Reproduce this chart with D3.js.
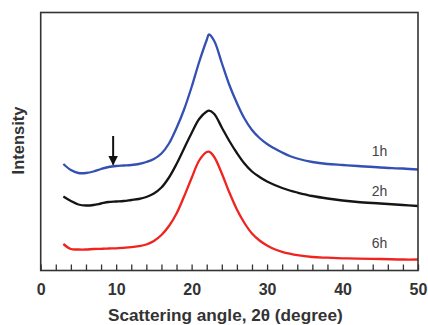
<!DOCTYPE html>
<html>
<head>
<meta charset="utf-8">
<script src="https://cdn.jsdelivr.net/npm/d3@7"></script>
<style>
  body { margin: 0; background: #fff; }
  text { font-family: Arial, "Liberation Sans", sans-serif; }
</style>
</head>
<body>
<div id="chart"></div>
<script>
// scattering angle grid (2θ, degree)
const angles = [3, 4, 5, 6, 7, 8, 9, 10, 11, 12, 13, 14, 15, 16, 17, 18, 19, 20, 21, 22, 22.3,
  23, 24, 25, 26, 27, 28, 29, 30, 31, 32, 33, 34, 36, 38, 40, 42, 45, 48, 50];

// intensity (a.u., curves offset for display)
const intensity1h = [106.5, 100.5, 97.5, 97.5, 99, 101.5, 103.5, 104.5, 105, 105.5, 106.5, 108.5, 111.5,
  117, 127, 142.5, 161, 183.5, 208.5, 230.5, 236,
  229.5, 207.5, 185.5, 167.5, 152, 140.5, 132.5, 126.5, 122, 118, 114.5, 112, 108.5, 106.5, 105.5, 104.5, 103, 102, 101];
const intensity2h = [74, 69.5, 66, 65, 65.5, 67, 68.5, 69, 69.5, 70.5, 71.5, 73.5, 77,
  83, 93, 106.5, 122, 137.5, 151.5, 159, 159.8,
  156.5, 143, 129.5, 117.5, 107, 99, 93.5, 89, 85.5, 82.5, 80, 78, 74.5, 72, 70, 68.5, 67, 65.5, 64.5];
const intensity6h = [26.5, 21.5, 21, 21, 21.5, 21.7, 22, 22.2, 22.7, 23.3, 24.3, 26, 29.5,
  35.5, 44.5, 57, 74, 92.5, 110, 118.5, 118.8,
  113.5, 97, 78, 61, 47.5, 37, 30, 25, 21.3, 18.7, 16.8, 15.3, 13.5, 12.8, 12.2, 11.8, 11.5, 11, 11];

const seriesNames = ["1h", "2h", "6h"];
const seriesColors = ["#3350b2", "#151515", "#f0231f"];
const labelAngle = 44.9;
const labelIntensity = [119, 79.5, 27];

// arrow marking the weak shoulder on the 1h curve
const arrowAngle = 9.6;
const arrowFrom = 134.5;
const arrowTo = 106;

const xTicks = d3.range(0, 51, 2);

const width = 428;
const height = 325;
const margin = { top: 12.5, right: 10, bottom: 54.5, left: 40.7 };

const chartWidth = width - margin.left - margin.right;
const chartHeight = height - margin.top - margin.bottom;

const svg = d3.select("#chart")
  .append("svg")
  .attr("width", width)
  .attr("height", height);

const chart = svg.append("g")
  .attr("transform", `translate(${margin.left}, ${margin.top})`);

const xScale = d3.scaleLinear([0, 50], [0, chartWidth]);
const yScale = d3.scaleLinear([0, 258], [chartHeight, 0]);

const series = [intensity1h, intensity2h, intensity6h].map((values, i) => ({
  name: seriesNames[i],
  color: seriesColors[i],
  labelY: labelIntensity[i],
  points: angles.map((a, j) => ({ angle: a, value: values[j] })),
}));

const line = d3.line()
  .x((d) => xScale(d.angle))
  .y((d) => yScale(d.value))
  .curve(d3.curveCatmullRom.alpha(0.5));

chart.selectAll(".curve")
  .data(series)
  .join("path")
  .attr("class", "curve")
  .attr("d", (d) => line(d.points))
  .attr("fill", "none")
  .attr("stroke", (d) => d.color)
  .attr("stroke-width", 2.3)
  .attr("stroke-linejoin", "round");

chart.selectAll(".series-label")
  .data(series)
  .join("text")
  .attr("class", "series-label")
  .attr("x", xScale(labelAngle))
  .attr("y", (d) => yScale(d.labelY))
  .attr("dy", "0.35em")
  .attr("text-anchor", "middle")
  .attr("font-size", 14)
  .attr("fill", "#444")
  .text((d) => d.name);

// arrow
svg.append("defs")
  .append("marker")
  .attr("id", "arrowhead")
  .attr("viewBox", "0 0 10 10")
  .attr("refX", 9)
  .attr("refY", 5)
  .attr("markerWidth", 5)
  .attr("markerHeight", 5)
  .attr("markerUnits", "strokeWidth")
  .attr("orient", "auto")
  .append("path")
  .attr("d", "M0,0 L10,5 L0,10 Z")
  .attr("fill", "#111");

chart.append("line")
  .attr("x1", xScale(arrowAngle))
  .attr("x2", xScale(arrowAngle))
  .attr("y1", yScale(arrowFrom))
  .attr("y2", yScale(arrowTo))
  .attr("stroke", "#111")
  .attr("stroke-width", 2)
  .attr("marker-end", "url(#arrowhead)");

// x axis: inward ticks, labels every 10
const xAxis = d3.axisBottom(xScale)
  .tickValues(xTicks)
  .tickSize(-6)
  .tickPadding(13)
  .tickFormat((d) => (d % 10 === 0 ? d : ""));

const gx = chart.append("g")
  .attr("transform", `translate(0, ${chartHeight})`)
  .call(xAxis);

gx.select(".domain").remove();
gx.selectAll(".tick line").attr("stroke", "#333").attr("stroke-width", 1.3);
gx.selectAll(".tick text")
  .attr("font-size", 16)
  .attr("font-weight", "bold")
  .attr("fill", "#333");

// frame
chart.append("rect")
  .attr("width", chartWidth)
  .attr("height", chartHeight)
  .attr("fill", "none")
  .attr("stroke", "#333")
  .attr("stroke-width", 1.6);

svg.append("text")
  .attr("x", margin.left + xScale(25) - 4)
  .attr("y", 321)
  .attr("text-anchor", "middle")
  .attr("font-size", 17.2)
  .attr("font-weight", "bold")
  .attr("fill", "#333")
  .text("Scattering angle, 2θ (degree)");

svg.append("text")
  .attr("transform", `translate(24, ${margin.top + chartHeight / 2 - 1}) rotate(-90)`)
  .attr("text-anchor", "middle")
  .attr("font-size", 16.5)
  .attr("font-weight", "bold")
  .attr("fill", "#333")
  .text("Intensity");
</script>
</body>
</html>
